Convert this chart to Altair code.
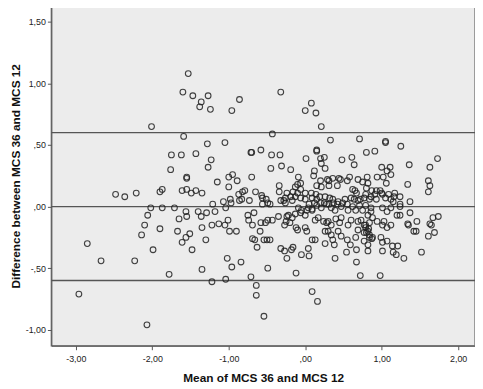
import altair as alt
import pandas as pd

mean_vals = [
-1.53,-1.60,-1.47,-1.36,-1.38,-1.27,-1.24,-0.86,-0.96,-0.32,0.08,0.00,0.14,0.21,-2.01,
-1.59,-1.28,-1.05,-0.43,-1.75,-1.62,-1.43,-1.23,-1.27,-1.76,-0.71,-0.70,-0.58,-0.44,-0.33,
-0.31,-0.45,-0.19,0.01,0.15,0.15,0.12,0.33,0.71,1.05,1.05,1.25,0.80,0.91,0.20,
0.25,0.21,0.26,0.48,0.61,0.64,1.00,1.11,1.07,1.12,1.02,0.94,1.36,1.63,1.73,
0.11,-1.55,-1.55,-1.15,-1.00,-0.95,-0.89,-0.70,-0.34,-0.09,-0.06,-0.10,-1.87,-1.61,-1.55,
-1.49,-1.43,-1.35,-1.00,-0.87,-0.82,-0.79,-0.83,-0.65,-0.57,-0.13,-0.16,-0.06,-0.10,0.00,
0.08,0.14,0.20,0.29,0.31,0.36,0.44,0.42,0.15,0.21,0.31,0.46,0.55,0.58,0.69,
0.75,0.62,0.65,0.67,0.81,0.82,0.80,0.87,1.06,0.93,0.98,1.00,1.17,1.34,1.61,
1.63,1.61,0.91,0.86,0.93,0.84,1.01,1.05,1.09,1.12,1.16,1.24,1.15,1.24,1.37,
-2.48,-2.36,-2.21,-1.90,-1.07,-0.98,-0.97,-0.86,-0.73,-0.56,-0.49,-0.46,-0.51,-0.56,-0.32,
-0.28,-0.26,-0.19,-0.34,-0.24,-0.13,-0.06,0.00,0.09,0.19,0.15,0.26,0.32,0.36,0.28,
0.43,0.52,0.60,0.64,0.69,0.72,0.77,0.79,-0.26,-0.17,-2.02,-1.87,-1.71,-1.21,-1.04,
-0.09,0.04,0.09,0.21,0.34,0.86,1.01,1.12,1.07,1.24,0.15,0.39,0.47,0.56,0.62,
0.66,0.71,0.75,0.79,-1.56,-1.55,-1.65,-1.40,-1.36,-1.29,-1.18,-2.06,-2.10,-2.14,-1.90,
-2.85,-1.99,-2.67,-2.23,-2.96,-2.07,-1.67,-1.61,-1.56,-1.51,-1.48,-1.35,-1.30,-1.22,-1.13,
-1.05,-1.01,-0.99,-0.90,-1.35,-1.78,-1.22,-1.04,-1.02,-0.96,-0.84,-0.75,-0.74,-0.67,-0.69,
-0.58,-0.49,-0.43,-0.35,-0.69,-0.66,-0.63,-0.54,-0.50,-0.46,-0.59,-0.71,-0.64,-0.64,-0.49,
-0.54,-0.52,-0.24,-0.22,-0.20,-0.25,-0.27,-0.17,-0.13,-0.06,0.00,-0.12,-0.10,0.00,0.02,
-0.05,0.02,0.09,0.13,-0.32,-0.27,-0.18,-0.16,-0.24,-0.05,0.04,0.05,-0.12,0.09,0.16,
0.09,0.13,0.17,0.26,0.30,0.34,0.36,0.43,0.26,0.38,0.47,0.55,0.59,0.66,0.77,
0.77,0.87,1.01,1.07,1.14,1.21,0.39,0.54,0.67,0.82,1.01,1.15,1.19,1.29,1.52,
0.67,0.72,0.98,1.61,1.69,1.42,1.45,1.63,1.65,1.67,1.74,1.37,1.46,1.34,1.35,
1.24,1.20,0.30,0.34,0.45,0.47,0.56,0.60,0.69,0.73,0.77,0.79,0.69,0.82,0.86,
0.88,0.84,0.94,1.01,1.03,1.07,1.12,0.82,0.84,0.88,0.82,0.99,0.79,0.83,0.80,
0.84,0.05,0.12,0.20,0.25,0.31,0.37,0.42,0.49,0.55,0.24,0.28,0.40,
]

diff_vals = [
1.08,0.93,0.90,0.85,0.81,0.90,0.79,0.87,0.78,0.93,0.84,0.78,0.76,0.65,0.65,
0.57,0.51,0.52,0.59,0.42,0.42,0.43,0.38,0.32,0.30,0.44,0.44,0.46,0.42,0.42,
0.33,0.31,0.30,0.39,0.45,0.46,0.29,0.54,0.55,0.52,0.53,0.49,0.44,0.45,0.39,
0.40,0.35,0.31,0.38,0.40,0.34,0.32,0.32,0.29,0.26,0.24,0.24,0.34,0.32,0.39,
0.25,0.23,0.24,0.20,0.24,0.26,0.21,0.24,0.17,0.24,0.19,0.18,0.14,0.13,0.14,
0.11,0.13,0.11,0.16,0.10,0.12,0.13,0.06,0.12,0.09,0.16,0.12,0.14,0.11,0.11,
0.11,0.10,0.21,0.22,0.21,0.23,0.23,0.17,0.17,0.16,0.17,0.22,0.21,0.24,0.22,
0.20,0.14,0.13,0.11,0.24,0.19,0.15,0.13,0.19,0.13,0.13,0.11,0.11,0.18,0.21,
0.17,0.12,0.10,0.08,0.06,0.06,0.10,0.07,0.10,0.06,0.08,0.08,0.04,0.02,0.04,
0.10,0.08,0.11,0.12,0.04,0.06,0.03,0.05,0.05,0.07,0.03,0.02,0.06,0.02,0.05,
0.05,0.03,0.08,0.12,0.11,0.08,0.07,0.06,0.07,0.08,0.06,0.08,0.07,0.06,0.02,
0.04,0.06,0.07,0.06,0.05,0.06,0.07,0.10,0.07,0.05,-0.01,-0.01,-0.01,0.02,-0.01,
-0.01,-0.01,-0.02,-0.01,-0.01,-0.01,-0.01,-0.01,-0.04,0.00,0.01,-0.03,0.00,-0.03,0.00,
-0.03,0.01,-0.03,0.01,-0.04,-0.08,-0.10,-0.04,-0.08,-0.05,-0.04,-0.07,-0.15,-0.23,-0.18,
-0.30,-0.35,-0.44,-0.44,-0.71,-0.96,-0.20,-0.29,-0.25,-0.22,-0.35,-0.17,-0.27,-0.15,-0.14,
-0.15,-0.11,-0.20,-0.20,-0.51,-0.55,-0.61,-0.59,-0.42,-0.49,-0.45,-0.07,-0.11,-0.05,-0.15,
-0.13,-0.11,-0.11,-0.08,-0.26,-0.27,-0.33,-0.27,-0.27,-0.27,-0.20,-0.57,-0.64,-0.72,-0.50,
-0.89,-0.13,-0.08,-0.07,-0.13,-0.12,-0.15,-0.09,-0.06,-0.05,-0.07,-0.17,-0.19,-0.17,-0.20,
-0.03,-0.03,-0.03,-0.11,-0.34,-0.36,-0.35,-0.33,-0.42,-0.39,-0.34,-0.40,-0.54,-0.69,-0.77,
-0.27,-0.27,-0.09,-0.20,-0.20,-0.23,-0.27,-0.20,-0.30,-0.31,-0.24,-0.27,-0.31,-0.25,-0.21,
-0.28,-0.26,-0.29,-0.28,-0.32,-0.32,-0.42,-0.37,-0.35,-0.36,-0.36,-0.37,-0.39,-0.42,-0.37,
-0.45,-0.56,-0.56,-0.24,-0.21,-0.20,-0.20,-0.14,-0.15,-0.09,-0.08,-0.05,-0.12,-0.14,-0.15,
-0.07,-0.07,-0.12,-0.15,-0.13,-0.09,-0.15,-0.11,-0.12,-0.11,-0.15,-0.17,-0.19,-0.07,-0.04,
-0.09,-0.13,-0.12,-0.15,-0.12,-0.17,-0.15,-0.20,-0.25,-0.25,-0.31,-0.25,-0.15,-0.18,-0.21,
-0.23,0.02,0.03,0.03,0.03,0.02,0.03,0.02,0.03,0.02,-0.12,-0.13,-0.10,
]

ref_lines = [0.60, 0.00, -0.60]
x_ticks = [-3, -2, -1, 0, 1, 2]
y_ticks = [-1.0, -0.5, 0.0, 0.5, 1.0, 1.5]

n = min(len(mean_vals), len(diff_vals))
pts = pd.DataFrame({"m": mean_vals[:n], "d": diff_vals[:n]})
lines = pd.DataFrame({"v": ref_lines})

lab = ("(datum.value < 0 ? '-' : '') + (abs(datum.value) < 1 ? '' : toString(floor(abs(datum.value))))"
       " + ',' + slice(format(abs(datum.value), '.2f'), -2)")

xs = alt.Scale(domain=[-3.32, 2.22], nice=False, zero=False)
ys = alt.Scale(domain=[-1.13, 1.63], nice=False, zero=False)

points = alt.Chart(pts).mark_point(
    shape="circle", filled=False, size=34, strokeWidth=1.1, color="#222222", opacity=0.85
).encode(
    x=alt.X("m:Q", scale=xs, axis=alt.Axis(
        title="Mean of MCS 36 and MCS 12", values=x_ticks, labelExpr=lab,
        grid=False, tickSize=4, labelPadding=5, titlePadding=9,
        domainColor="#555555", tickColor="#555555")),
    y=alt.Y("d:Q", scale=ys, axis=alt.Axis(
        title="Difference between MCS 36 and MCS 12", values=y_ticks, labelExpr=lab,
        grid=False, tickSize=4, labelPadding=2, titlePadding=3,
        domainColor="#555555", tickColor="#555555")),
)

rules = alt.Chart(lines).mark_rule(color="#555555", strokeWidth=1.3).encode(
    y=alt.Y("v:Q", scale=ys)
)

chart = alt.layer(rules, points).properties(
    width=430, height=345,
    autosize=alt.AutoSizeParams(type="none"),
    padding={"left": 44, "top": -5, "right": 0, "bottom": 40},
    background="white",
).configure_view(
    fill="#ececec", stroke="#808080", strokeWidth=1.5
).configure_axis(
    labelFont="Liberation Sans", labelFontSize=9, labelColor="#222222",
    titleFont="Liberation Sans", titleFontSize=12, titleFontWeight="bold", titleColor="#111111",
)

chart.save("out.html", embed_options={"renderer": "svg", "actions": False})
